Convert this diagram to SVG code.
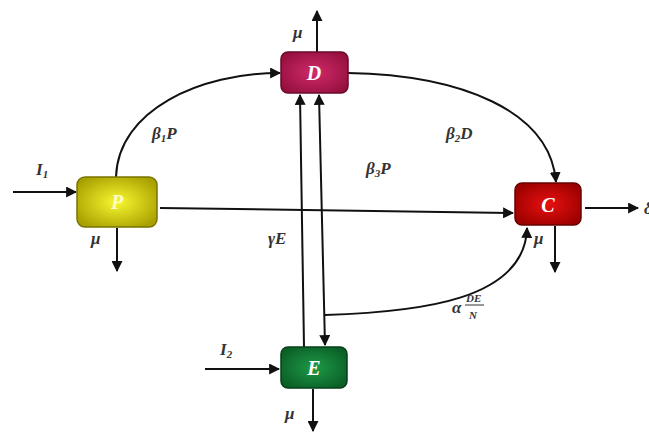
<svg xmlns="http://www.w3.org/2000/svg" width="649" height="432" viewBox="0 0 649 432">
<style>
.lbl{font-family:"Liberation Serif","DejaVu Serif",serif;font-style:italic;font-weight:bold;font-size:17px;fill:#333}
.sub{font-size:11px}
.nt{font-family:"Liberation Serif","DejaVu Serif",serif;font-style:italic;font-weight:bold;font-size:20px;fill:#fff;text-anchor:middle}
.ln{fill:none;stroke:#111;stroke-width:2}
.box{stroke-width:1.5}
</style>
<defs>
<marker id="ah" viewBox="0 0 10 10" refX="9" refY="5" markerWidth="5.5" markerHeight="5.5" orient="auto-start-reverse" markerUnits="strokeWidth">
<path d="M0,0 L10,5 L0,10 z" fill="#111"/>
</marker>
<radialGradient id="gP" cx="50%" cy="50%" r="60%"><stop offset="0" stop-color="#f8f830"/><stop offset="1" stop-color="#a8a000"/></radialGradient>
<radialGradient id="gD" cx="50%" cy="50%" r="60%"><stop offset="0" stop-color="#d02a6a"/><stop offset="1" stop-color="#96103f"/></radialGradient>
<radialGradient id="gC" cx="50%" cy="50%" r="60%"><stop offset="0" stop-color="#e81010"/><stop offset="1" stop-color="#9a0000"/></radialGradient>
<radialGradient id="gE" cx="50%" cy="50%" r="60%"><stop offset="0" stop-color="#1e9a48"/><stop offset="1" stop-color="#0a5e26"/></radialGradient>
</defs>

<g id="connectors">
<path class="ln" d="M13,192 L76,192" marker-end="url(#ah)"/>
<path class="ln" d="M117,228 L117,271" marker-end="url(#ah)"/>
<path class="ln" d="M116,177 C118,110 200,73 280,73" marker-end="url(#ah)"/>
<path class="ln" d="M348,73 C460,75 550,110 556,182" marker-end="url(#ah)"/>
<path class="ln" d="M160,208 L513,213" marker-end="url(#ah)"/>
<path class="ln" d="M317,52 L317,11" marker-end="url(#ah)"/>
<path class="ln" d="M304,347 L300,95" marker-end="url(#ah)"/>
<path class="ln" d="M319,95 L325,345" marker-start="url(#ah)" marker-end="url(#ah)"/>
<path class="ln" d="M325,315 C420,312 525,300 527,228" marker-end="url(#ah)"/>
<path class="ln" d="M585,208 L638,208" marker-end="url(#ah)"/>
<path class="ln" d="M555,226 L555,272" marker-end="url(#ah)"/>
<path class="ln" d="M205,369 L279,369" marker-end="url(#ah)"/>
<path class="ln" d="M313,389 L313,431" marker-end="url(#ah)"/>
</g>

<g id="node-P"><rect class="box" x="77" y="177" width="80" height="50" rx="8" fill="url(#gP)" stroke="#7a7400"/><text class="nt" x="117" y="209" fill="#fffbd0" style="fill:#fffcc8">P</text></g>
<g id="node-D"><rect class="box" x="281" y="52" width="67" height="41" rx="7" fill="url(#gD)" stroke="#6a0a2c"/><text class="nt" x="314" y="80">D</text></g>
<g id="node-C"><rect class="box" x="515" y="183" width="66" height="42" rx="7" fill="url(#gC)" stroke="#6a0000"/><text class="nt" x="548" y="212">C</text></g>
<g id="node-E"><rect class="box" x="281" y="347" width="66" height="41" rx="7" fill="url(#gE)" stroke="#064018"/><text class="nt" x="314" y="375">E</text></g>

<g id="labels">
<text class="lbl" x="36" y="175">I<tspan class="sub" dy="3">1</tspan></text>
<text class="lbl" x="91" y="244">μ</text>
<text class="lbl" x="293" y="38">μ</text>
<text class="lbl" x="152" y="139">β<tspan class="sub" dy="3">1</tspan><tspan dy="-3">P</tspan></text>
<text class="lbl" x="446" y="139">β<tspan class="sub" dy="3">2</tspan><tspan dy="-3">D</tspan></text>
<text class="lbl" x="366" y="174">β<tspan class="sub" dy="3">3</tspan><tspan dy="-3">P</tspan></text>
<text class="lbl" x="268" y="244">γE</text>
<text class="lbl" x="534" y="244">μ</text>
<text class="lbl" x="644" y="214">δ</text>
<text class="lbl" x="452" y="313">α</text>
<text class="lbl" style="font-size:11px" x="466" y="302">DE</text>
<line x1="465" y1="305" x2="484" y2="305" stroke="#333" stroke-width="1"/>
<text class="lbl" style="font-size:11px" x="469" y="319">N</text>
<text class="lbl" x="220" y="355">I<tspan class="sub" dy="3">2</tspan></text>
<text class="lbl" x="285" y="419">μ</text>
</g>
</svg>
